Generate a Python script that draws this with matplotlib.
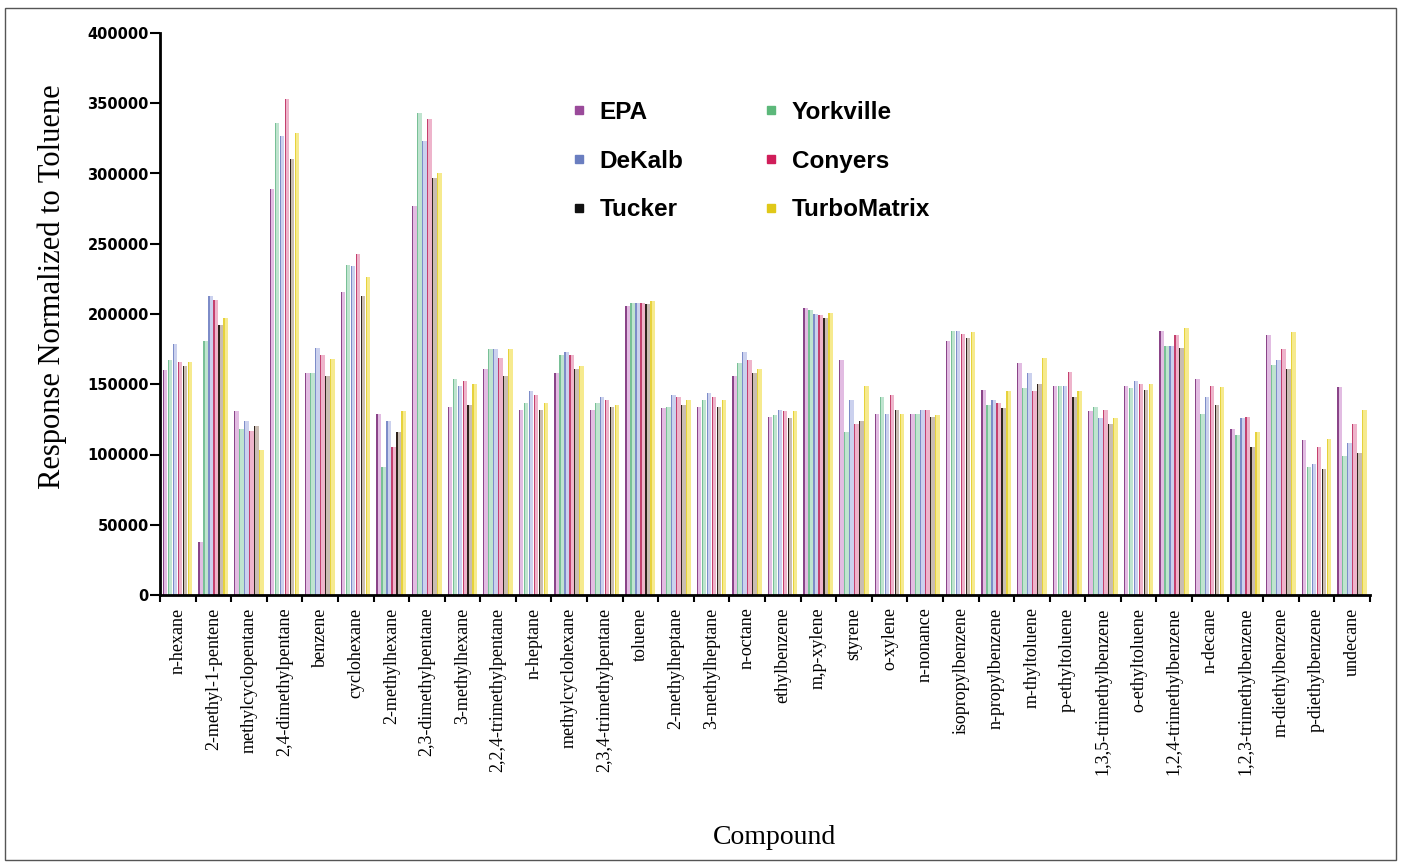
import matplotlib
matplotlib.use("Agg")
import matplotlib.pyplot as plt
from matplotlib.lines import Line2D
from matplotlib.patches import Rectangle
import numpy as np

compounds = [
    "n-hexane", "2-methyl-1-pentene", "methylcyclopentane", "2,4-dimethylpentane",
    "benzene", "cyclohexane", "2-methylhexane", "2,3-dimethylpentane",
    "3-methylhexane", "2,2,4-trimethylpentane", "n-heptane", "methylcyclohexane",
    "2,3,4-trimethylpentane", "toluene", "2-methylheptane", "3-methylheptane",
    "n-octane", "ethylbenzene", "m,p-xylene", "styrene", "o-xylene", "n-nonance",
    "isopropylbenzene", "n-propylbenzene", "m-thyltoluene", "p-ethyltoluene",
    "1,3,5-trimethylbenzene", "o-ethyltoluene", "1,2,4-trimethylbenzene",
    "n-decane", "1,2,3-trimethylbenzene", "m-diethylbenzene", "p-diethylbenzene",
    "undecane",
]

epa = [160000, 38000, 131000, 289000, 158000, 216000, 129000, 277000, 134000,
       161000, 132000, 158000, 132000, 206000, 133000, 134000, 156000, 127000,
       204000, 167000, 129000, 129000, 181000, 146000, 165000, 149000, 131000,
       149000, 188000, 154000, 118000, 185000, 110000, 148000]
yorkville = [167000, 181000, 118000, 336000, 158000, 235000, 91000, 343000, 154000,
             175000, 137000, 171000, 137000, 208000, 134000, 139000, 165000, 128000,
             203000, 116000, 141000, 129000, 188000, 135000, 147000, 149000, 134000,
             147000, 177000, 129000, 114000, 164000, 91000, 99000]
dekalb = [179000, 213000, 124000, 327000, 176000, 234000, 124000, 323000, 149000,
          175000, 145000, 173000, 141000, 208000, 142000, 144000, 173000, 132000,
          200000, 139000, 129000, 132000, 188000, 139000, 158000, 149000, 126000,
          152000, 177000, 141000, 126000, 167000, 93000, 108000]
conyers = [166000, 210000, 117000, 353000, 171000, 243000, 105000, 339000, 152000,
           169000, 142000, 171000, 139000, 208000, 141000, 141000, 167000, 131000,
           199000, 122000, 142000, 132000, 186000, 137000, 145000, 159000, 132000,
           150000, 185000, 149000, 127000, 175000, 105000, 122000]
tucker = [163000, 192000, 120000, 310000, 156000, 213000, 116000, 297000, 135000,
          156000, 132000, 161000, 134000, 207000, 135000, 134000, 158000, 126000,
          197000, 124000, 132000, 127000, 183000, 133000, 150000, 141000, 122000,
          146000, 176000, 135000, 105000, 161000, 90000, 101000]
turbomatrix = [166000, 197000, 103000, 329000, 168000, 226000, 131000, 300000, 150000,
               175000, 137000, 163000, 135000, 209000, 139000, 139000, 161000, 131000,
               201000, 149000, 129000, 128000, 187000, 145000, 169000, 145000, 126000,
               150000, 190000, 148000, 116000, 187000, 111000, 132000]

series_names = ["EPA", "Yorkville", "DeKalb", "Conyers", "Tucker", "TurboMatrix"]
series_values = [epa, yorkville, dekalb, conyers, tucker, turbomatrix]
key_colors = ["#9a4a9a", "#5cb87a", "#6a7ec0", "#d01e5a", "#111111", "#e0c818"]
edge_colors = ["#8a4488", "#78c096", "#7d8cc8", "#c4406e", "#2e221c", "#e6d23c"]
fill_colors = ["#e2bce2", "#bfe4cf", "#cbd1ee", "#eeb4cb", "#c9bcb2", "#f6ea8e"]

yticks = [0, 50000, 100000, 150000, 200000, 250000, 300000, 350000, 400000]

W, H = 1401, 867
fig = plt.figure(figsize=(W / 100, H / 100), dpi=100)
fig.patch.set_facecolor("white")
ax = fig.add_axes([160 / W, 1 - 595 / H, (1370 - 160) / W, (595 - 33) / H])

n = len(compounds)
centers = np.arange(n) + 0.5
step = 0.14
bar_w = 0.13
for k, (vals, fc, ec) in enumerate(zip(series_values, fill_colors, edge_colors)):
    left = centers + (k - 3) * step
    ax.bar(left, vals, width=bar_w, align="edge", color=fc, linewidth=0)
    ax.bar(left, vals, width=0.035, align="edge", color=ec, linewidth=0)

ax.set_xlim(0, n)
ax.set_ylim(0, 400000)
ax.set_yticks(yticks)
ax.set_yticklabels([str(v) for v in yticks], fontfamily="DejaVu Sans",
                   fontweight="bold", fontsize=10.5)
ax.tick_params(axis="y", direction="out", length=7, width=1.5, pad=1)

ax.set_xticks(centers)
ax.set_xticklabels(compounds, rotation=90, fontfamily="Liberation Serif",
                   fontsize=13, va="top", ha="center")
ax.tick_params(axis="x", which="major", length=0, pad=9)
ax.set_xticks(np.arange(n + 1), minor=True)
ax.tick_params(axis="x", which="minor", direction="out", length=5, width=1.5)

for side in ("top", "right"):
    ax.spines[side].set_visible(False)
for side in ("left", "bottom"):
    ax.spines[side].set_linewidth(2)

fig.text(52 / W, 1 - 287 / H, "Response Normalized to Toluene", rotation=90,
         ha="center", va="center", fontfamily="Liberation Serif", fontsize=22)
fig.text(775 / W, 1 - 838 / H, "Compound", ha="center", va="center",
         fontfamily="Liberation Serif", fontsize=20)

# legend laid out column-wise: EPA/DeKalb/Tucker, then Yorkville/Conyers/TurboMatrix
order = [0, 2, 4, 1, 3, 5]
handles = [Line2D([], [], linestyle="none", marker="s", markersize=5.5,
                  markerfacecolor=key_colors[i], markeredgecolor=key_colors[i])
           for i in order]
labels = [series_names[i] for i in order]
fig.legend(handles, labels, ncol=2, loc="upper left",
           bbox_to_anchor=(573 / W, 1 - 101 / H), frameon=False,
           prop={"family": "Liberation Sans", "weight": "bold", "size": 17.5},
           handlelength=0.5, handletextpad=0.6, columnspacing=3.35,
           labelspacing=1.05, borderpad=0, borderaxespad=0)

fig.patches.append(Rectangle((5 / W, 1 - 860 / H), (1396 - 5) / W, (860 - 8) / H,
                             transform=fig.transFigure, fill=False,
                             edgecolor="#555555", linewidth=1))

fig.savefig("out.png", dpi=100, facecolor="white")
